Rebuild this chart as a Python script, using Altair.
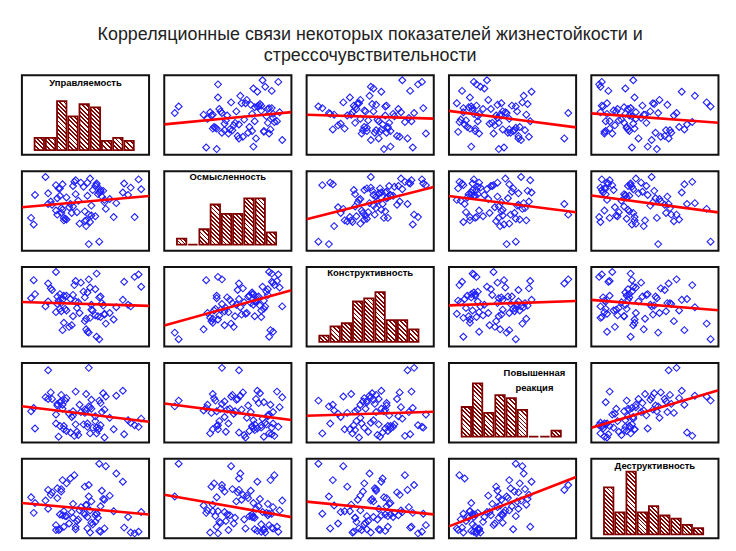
import altair as alt
import pandas as pd

chart_title = ["Корреляционные связи некоторых показателей жизнестойкости и",
               "стрессочувствительности"]
panel_labels = ["Управляемость", "Осмысленность", "Конструктивность",
                ["Повышенная", "реакция"], "Деструктивность"]

# raw observations (74 respondents), one list per indicator
upravlyaemost = [8.4, 5.2, 7.6, 4.5, 5.8, 2.3, 6.5, 5.5, 8.1, 3.7, 5.1, 4.9,
                 7.3, 5.6, 4.2, 2.8, 5.4, 6.2, 3.5, 4.7, 5.9, 2.4, 7.8, 4.4,
                 5.3, 2.6, 4.8, 3.2, 8.6, 5.7, 2.1, 4.3, 1.5, 5.2, 3.8, 4.6, 2.9,
                 0.2, 5.5, 2.5, 3.4, 6.7, 0.4, 4.5, 2.2, 5.8, 3.1, 7.2, 2.7, 4.8,
                 2.4, 5.1, 1.7, 4.3, 3.6, 2.9, 1.5, 4.0, 2.5, 4.7, 3.3, 2.2,
                 1.3, 2.6, 5.4, 0.5, 3.9, 2.1, 4.4, 1.8, 3.4, 4.6, 2.7, 3.6]
osmyslennost = [8.2, 7.5, 6.3, 7.8, 5.4, 7.1, 3.6, 6.7, 3.6, 4.2, 7.4, 6.9,
                7.7, 6.1, 7.3, 3.4, 6.6, 5.8, 7.9, 8.3, 4.6, 6.2, 7.2, 2.5,
                6.4, 7.6, 3.8, 5.2, 7.0, 6.8, 4.4, 3.1, 6.5, 7.7, 5.6, 0.3, 6.0,
                3.5, 6.9, 4.1, 7.4, 5.3, 2.7, 6.2, 3.9, 5.7, 4.8, 6.6, 3.2, 5.0,
                7.1, 3.7, 5.5, 4.3, 6.4, 3.3, 5.2, 7.8, 4.7, 3.0, 4.1, 5.9,
                8.5, 4.5, 0.6, 6.3, 2.8, 7.5, 3.2, 5.1, 4.9, 3.9, 3.5, 8.1]
konstruktivnost = [8.3, 0.7, 4.6, 1.3, 3.4, 5.1, 2.8, 5.6, 8.0, 4.2, 6.5, 3.9,
                   7.4, 4.8, 6.2, 4.1, 5.5, 3.6, 7.0, 6.7, 2.3, 5.9, 4.4, 1.6,
                   3.2, 1.5, 4.0, 5.3, 6.8, 4.5, 3.7, 2.6, 5.0, 8.4, 4.9, 1.2, 5.7,
                   5.4, 3.1, 3.8, 5.8, 4.3, 7.6, 6.1, 4.7, 3.5, 1.9, 5.2, 2.4, 4.6,
                   4.1, 3.3, 6.6, 5.5, 5.0, 3.9, 7.2, 7.3, 4.8, 3.0, 2.1, 5.6,
                   4.4, 5.2, 0.4, 5.9, 3.6, 8.6, 2.9, 6.4, 3.2, 7.7, 5.7, 7.5]
povyshennaya_reaktsiya = [1.4, 0.6, 2.2, 1.8, 3.5, 0.2, 1.1, 4.3, 1.6, 0.8, 2.7, 1.3,
                          0.5, 3.2, 1.7, 4.6, 1.2, 2.5, 0.3, 3.8, 5.1, 1.5, 1.9, 3.4,
                          1.0, 4.1, 3.6, 0.7, 2.4, 5.5, 1.8, 3.1, 4.8, 1.3, 0.4, 3.9, 0.9,
                          3.3, 1.6, 4.5, 2.8, 5.2, 3.7, 1.4, 4.2, 0.1, 3.0, 5.8, 1.1, 4.7,
                          4.4, 2.1, 5.6, 3.5, 1.7, 4.9, 8.3, 3.2, 5.3, 0.6, 2.6, 4.0,
                          5.0, 3.6, 4.6, 1.2, 4.1, 2.9, 5.4, 4.8, 3.3, 8.6, 1.5, 5.7]
destruktivnost = [0.3, 2.5, 2.1, 0.7, 4.2, 0.5, 2.8, 3.4, 0.1, 1.6, 2.3, 1.2,
                  0.8, 5.3, 2.6, 2.2, 0.4, 4.7, 7.2, 2.9, 8.3, 2.4, 0.2, 3.5,
                  2.0, 6.6, 1.4, 6.8, 2.7, 4.3, 0.5, 5.8, 3.1, 2.5, 1.8, 4.6, 2.2,
                  4.5, 0.3, 5.2, 3.7, 7.4, 2.6, 2.1, 5.6, 0.7, 1.3, 6.4, 2.8, 4.0,
                  0.6, 1.5, 4.8, 2.4, 0.6, 6.2, 5.4, 3.3, 5.5, 0.2, 2.7, 4.4,
                  4.1, 2.3, 8.6, 3.8, 2.9, 1.1, 3.6, 5.1, 2.0, 6.0, 0.9, 0.9]

# histogram bar counts
hist_upravlyaemost = [4, 4, 16, 11, 15, 14, 3, 4, 3]
hist_osmyslennost = [2, 0, 5, 13, 10, 10, 15, 15, 4]
hist_konstruktivnost = [2, 5, 6, 13, 14, 16, 7, 7, 4]
hist_reaktsiya = [10, 18, 8, 14, 13, 9, 0, 0, 2]
hist_destruktivnost = [15, 7, 20, 7, 9, 6, 5, 3, 2]

series = [upravlyaemost, osmyslennost, konstruktivnost, povyshennaya_reaktsiya, destruktivnost]
hists = [hist_upravlyaemost, hist_osmyslennost, hist_konstruktivnost, hist_reaktsiya, hist_destruktivnost]

df = pd.DataFrame({f"v{k}": s for k, s in enumerate(series)})

# ---- layout / style ----
W, H = 128, 80
HX = [-1.55, 9.78]
BAR_HALF = 0.42
SC_DOM = [-0.5, 9.2]
HIST_PAD = [(4.7, 26), (6, 27.3), (4.7, 25.3), (5.8, 20.5), (4, 13)]
LABEL_POS = [dict(offset=-12, dx=0), dict(offset=-10, dx=0), dict(offset=-10, dx=0),
             dict(offset=-30, dx=22), dict(offset=-12, dx=0)]
DARK = "#800000"


def hatch(w, h, period=4.2, dark_share=0.45):
    k = (w + h) / (w * w + h * h)
    n = max(1, round((w + h) / period))
    stops = []
    for s in range(n):
        a = round(s / n, 5)
        m = round((s + dark_share) / n, 5)
        b = round((s + 1) / n, 5)
        stops += [alt.GradientStop(offset=a, color=DARK), alt.GradientStop(offset=m, color=DARK),
                  alt.GradientStop(offset=m, color="#ffffff"), alt.GradientStop(offset=b, color="#ffffff")]
    return alt.LinearGradient(gradient="linear", stops=stops,
                              x1=0, y1=1, x2=round(k * w, 5), y2=round(1 - k * h, 5))


def hist_panel(k):
    counts = hists[k]
    base_off, top_off = HIST_PAD[k]
    cmax = max(counts)
    ppc = (H - base_off - top_off) / cmax
    ydom = [-base_off / ppc, cmax + top_off / ppc]
    wpx = 2 * BAR_HALF * W / (HX[1] - HX[0])
    hd = pd.DataFrame({"b": list(range(len(counts))), "n": counts})
    base = alt.Chart(hd).transform_calculate(
        b0=f"datum.b - {BAR_HALF}", b1=f"datum.b + {BAR_HALF}", z="0"
    ).encode(
        x=alt.X("b0:Q", scale=alt.Scale(domain=HX, nice=False, zero=False), axis=None),
        x2="b1:Q",
        y=alt.Y("n:Q", scale=alt.Scale(domain=ydom, nice=False, zero=False), axis=None),
        y2="z:Q",
    )
    layers = []
    for b, n in enumerate(counts):
        fill = hatch(wpx, n * ppc) if n > 0 else DARK
        layers.append(base.transform_filter(alt.datum.b == b).mark_rect(
            fill=fill, stroke=DARK, strokeWidth=1.8))
    pos = LABEL_POS[k]
    return alt.layer(*layers).properties(
        width=W, height=H,
        title=alt.TitleParams(panel_labels[k], fontSize=9.5, fontWeight="bold", font="Liberation Sans",
                              color="#000000", anchor="middle", offset=pos["offset"], dx=pos["dx"],
                              lineHeight=15))


def scatter_panel(i, j):
    base = alt.Chart(df).encode(
        x=alt.X(f"v{j}:Q", scale=alt.Scale(domain=SC_DOM, nice=False, zero=False), axis=None),
        y=alt.Y(f"v{i}:Q", scale=alt.Scale(domain=SC_DOM, nice=False, zero=False), axis=None),
    )
    pts = base.mark_point(shape="diamond", filled=False, size=48, color="#1f1fff",
                          strokeWidth=1.1, opacity=1, clip=True)
    line = base.transform_regression(f"v{j}", f"v{i}", extent=SC_DOM).mark_line(
        color="#ff0000", strokeWidth=2.6, clip=True)
    return alt.layer(pts, line).properties(width=W, height=H)


cells = []
for i in range(5):
    for j in range(5):
        cells.append(hist_panel(i) if i == j else scatter_panel(i, j))

chart = alt.concat(*cells, columns=5, spacing={"row": 16.5, "column": 15.3}, bounds="flush").properties(
    title=alt.TitleParams(chart_title, fontSize=18, font="Liberation Sans", fontWeight="normal",
                          color="#222222", anchor="middle", offset=9, lineHeight=22),
    padding={"left": 13, "top": 16, "right": 7.8, "bottom": 5},
    background="white",
).configure_view(stroke="#111111", strokeWidth=2)

chart.save("out.html", embed_options={"renderer": "svg", "actions": False})
